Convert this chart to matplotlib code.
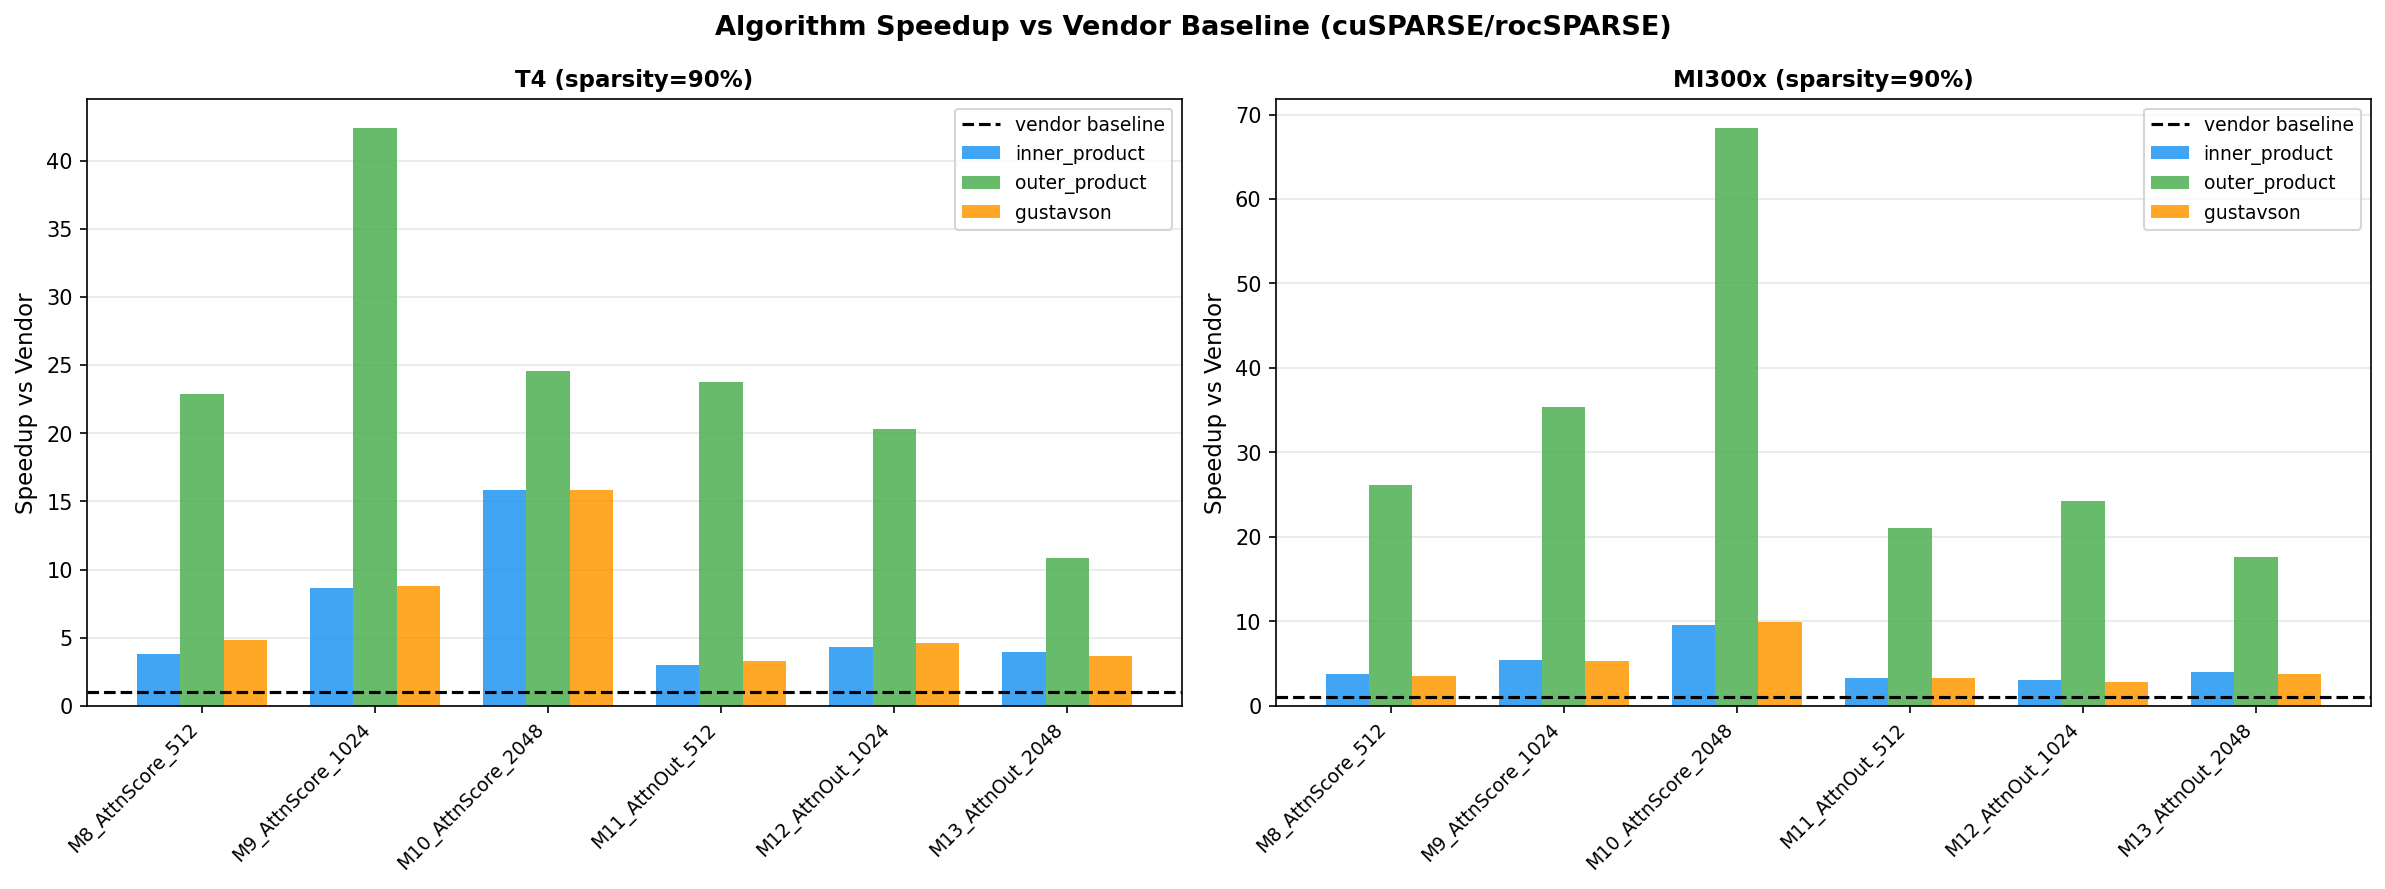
import matplotlib
matplotlib.use("Agg")
import matplotlib.pyplot as plt
import numpy as np

# Matrices (x categories)
matrices = ["M8_AttnScore_512", "M9_AttnScore_1024", "M10_AttnScore_2048",
            "M11_AttnOut_512", "M12_AttnOut_1024", "M13_AttnOut_2048"]

algorithms = ["inner_product", "outer_product", "gustavson"]

# Speedup vs vendor, T4
t4_inner = [3.78, 8.61, 15.83, 3.03, 4.35, 3.93]
t4_outer = [22.88, 42.4, 24.56, 23.75, 20.3, 10.88]
t4_gust = [4.80, 8.76, 15.83, 3.27, 4.59, 3.63]

# Speedup vs vendor, MI300x
mi_inner = [3.73, 5.37, 9.53, 3.24, 3.10, 4.06]
mi_outer = [26.1, 35.4, 68.4, 21.0, 24.24, 17.56]
mi_gust = [3.58, 5.27, 9.87, 3.24, 2.76, 3.73]

colors = {"inner_product": "#2196F3", "outer_product": "#4CAF50", "gustavson": "#FF9800"}

fig, axes = plt.subplots(1, 2, figsize=(16, 6))

paneles = [
    ("T4 (sparsity=90%)", [t4_inner, t4_outer, t4_gust]),
    ("MI300x (sparsity=90%)", [mi_inner, mi_outer, mi_gust]),
]

x = np.arange(len(matrices))
width = 0.25

for ax, (titulo, series) in zip(axes, paneles):
    ax.axhline(1.0, color="black", linestyle="--", linewidth=1.5, label="vendor baseline")
    for i, (alg, vals) in enumerate(zip(algorithms, series)):
        ax.bar(x + (i - 1) * width, vals, width, label=alg, color=colors[alg], alpha=0.85)
    ax.set_xticks(x)
    ax.set_xticklabels(matrices, rotation=45, ha="right", fontsize=9)
    ax.set_ylabel("Speedup vs Vendor", fontsize=11)
    ax.set_title(titulo, fontsize=11, fontweight="bold")
    ax.legend(fontsize=9, loc="upper right")
    ax.grid(True, axis="y", alpha=0.3)
    ax.set_axisbelow(True)

fig.suptitle("Algorithm Speedup vs Vendor Baseline (cuSPARSE/rocSPARSE)", fontsize=13, fontweight="bold")
plt.tight_layout()
plt.savefig("out.png", dpi=150, bbox_inches="tight")
plt.close()
